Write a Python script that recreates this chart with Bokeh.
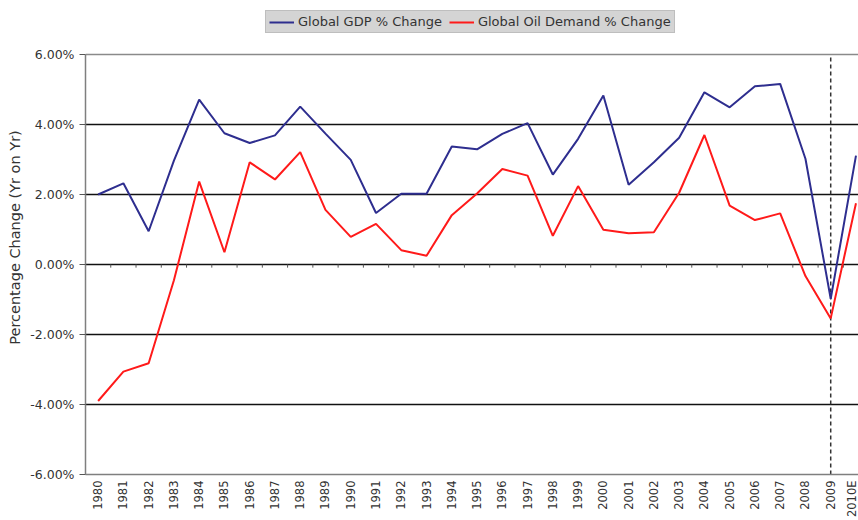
import math
from bokeh.plotting import figure
from bokeh.models import (Legend, LegendItem, FixedTicker, Grid, Range1d,
                          PrintfTickFormatter)
from bokeh.embed import file_html
from bokeh.resources import INLINE

# ---- data ----
years = list(range(1980, 2011))
year_labels = ["1980", "1981", "1982", "1983", "1984", "1985", "1986", "1987",
               "1988", "1989", "1990", "1991", "1992", "1993", "1994", "1995",
               "1996", "1997", "1998", "1999", "2000", "2001", "2002", "2003",
               "2004", "2005", "2006", "2007", "2008", "2009", "2010E"]
gdp_change = [2.00, 2.32, 0.95, 2.97, 4.71, 3.75, 3.47, 3.69, 4.51, 3.74,
              2.99, 1.47, 2.02, 2.02, 3.37, 3.29, 3.73, 4.04, 2.57, 3.59,
              4.83, 2.28, 2.92, 3.62, 4.92, 4.49, 5.09, 5.16, 3.02, -0.98, 3.11]
oil_change = [-3.90, -3.06, -2.82, -0.45, 2.37, 0.35, 2.92, 2.43, 3.21, 1.56,
              0.79, 1.16, 0.41, 0.25, 1.41, 2.03, 2.73, 2.54, 0.82, 2.24,
              0.99, 0.89, 0.92, 2.05, 3.70, 1.68, 1.27, 1.46, -0.33, -1.54, 1.75]
y_ticks = [-6, -4, -2, 0, 2, 4, 6]
split_year = 2009
series_names = ["Global GDP % Change", "Global Oil Demand % Change"]

FONT = "DejaVu Sans"
TXT = "#333333"

Y_MIN, Y_MAX = min(y_ticks), max(y_ticks)
TOP_PAD = 54 / 35.0   # headroom above the value axis for the legend (in axis units)

p = figure(width=858, height=520,
           x_range=Range1d(1979.5, 2010.1), y_range=Range1d(Y_MIN, Y_MAX + TOP_PAD),
           output_backend="svg", toolbar_location=None,
           min_border_left=85, min_border_right=0,
           min_border_top=0, min_border_bottom=46)
p.outline_line_color = None
p.background_fill_color = "white"

# grids
p.xgrid.visible = False
p.ygrid.ticker = FixedTicker(ticks=[t for t in y_ticks if abs(t) < Y_MAX])
p.ygrid.grid_line_color = "#111111"
p.ygrid.grid_line_width = 1.5
top_grid = Grid(dimension=1, ticker=FixedTicker(ticks=[Y_MAX]),
                grid_line_color="#8a8a8a", grid_line_width=1.5)
p.add_layout(top_grid)

# y axis
ya = p.yaxis[0]
ya.bounds = (Y_MIN, Y_MAX)
ya.ticker = FixedTicker(ticks=y_ticks)
ya.formatter = PrintfTickFormatter(format="%.2f%%")
ya.axis_line_color = "#7f7f7f"
ya.axis_line_width = 1.5
ya.major_tick_line_color = "#555555"
ya.major_tick_out = 6
ya.major_tick_in = 0
ya.minor_tick_line_color = None
ya.major_label_text_font = FONT
ya.major_label_text_font_size = "12.5px"
ya.major_label_text_color = TXT
ya.major_label_standoff = 5
ya.axis_label = "Percentage Change (Yr on Yr)"
ya.axis_label_text_font = FONT
ya.axis_label_text_font_size = "14.5px"
ya.axis_label_text_font_style = "normal"
ya.axis_label_text_color = TXT
ya.axis_label_standoff = 4

# x axis
xa = p.xaxis[0]
xa.ticker = FixedTicker(ticks=years)
xa.major_label_overrides = {y: lab for y, lab in zip(years, year_labels)}
xa.major_label_orientation = math.pi / 2
xa.major_label_text_font = FONT
xa.major_label_text_font_size = "11.5px"
xa.major_label_text_color = TXT
xa.major_label_standoff = 6
xa.axis_line_color = "#7f7f7f"
xa.axis_line_width = 1.5
xa.major_tick_line_color = None
xa.major_tick_out = 0
xa.major_tick_in = 0
xa.minor_tick_line_color = None
xa.minor_tick_out = 0

# small tick marks on the zero line between categories
bounds = [y + 0.5 for y in years[:-1]]
p.segment(x0=bounds, y0=[0] * len(bounds), x1=bounds, y1=[-0.09] * len(bounds),
          line_color="#555555", line_width=1)

# forecast split line (dashed, spanning the value axis)
p.segment(x0=[split_year], y0=[Y_MIN], x1=[split_year], y1=[Y_MAX],
          line_color="#333333", line_width=1.5, line_dash="4 3")

r_gdp = p.line(years, gdp_change, line_color="#2e2e8f", line_width=2)
r_oil = p.line(years, oil_change, line_color="#ff1a1a", line_width=2)

legend = Legend(items=[LegendItem(label=series_names[0], renderers=[r_gdp]),
                       LegendItem(label=series_names[1], renderers=[r_oil])],
                orientation="horizontal", location=(180, 441),
                background_fill_color="#d4d4d4", background_fill_alpha=1,
                border_line_color="#a8a8a8", border_line_width=1,
                label_text_font=FONT, label_text_font_size="13px",
                label_text_color=TXT, glyph_width=25, glyph_height=14,
                label_standoff=4, spacing=7, padding=3, margin=0,
                label_height=14)
p.add_layout(legend)

open("out.html", "w").write(file_html(p, INLINE))
